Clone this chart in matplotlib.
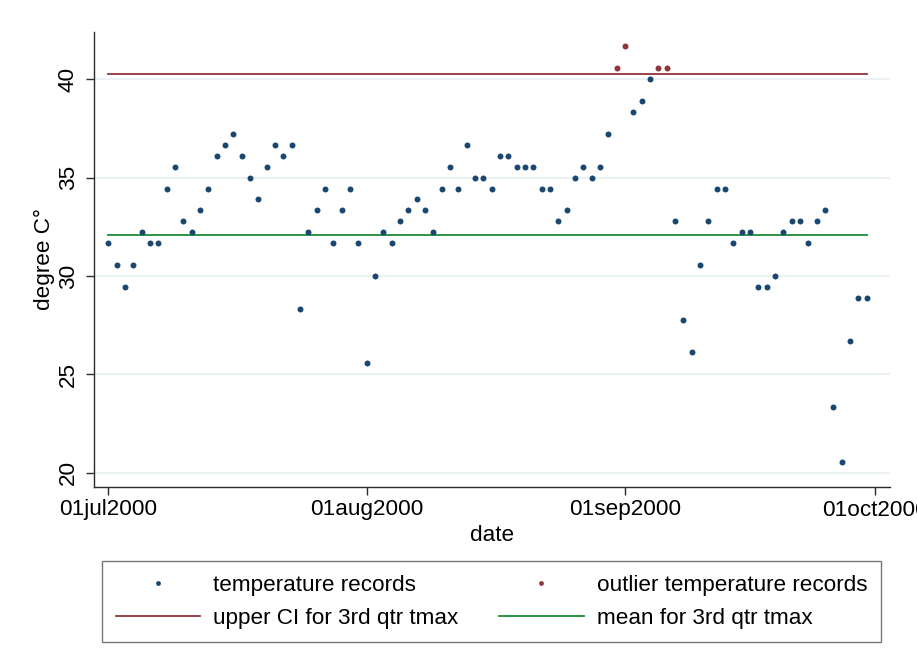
import matplotlib
matplotlib.use("Agg")
import matplotlib.pyplot as plt
import matplotlib.dates as mdates
import numpy as np
import pandas as pd

plt.rcParams['font.family'] = ['Liberation Sans', 'DejaVu Sans']

# ============================== DATA =================================
dates = pd.date_range("2000-07-01", "2000-09-30", freq="D")

tmax_jul = [31.67, 30.56, 29.44, 30.56, 32.22, 31.67, 31.67, 34.44, 35.56, 32.78,
            32.22, 33.33, 34.44, 36.11, 36.67, 37.22, 36.11, 35.00, 33.89, 35.56,
            36.67, 36.11, 36.67, 28.33, 32.22, 33.33, 34.44, 31.67, 33.33, 34.44,
            31.67]
tmax_aug = [25.56, 30.00, 32.22, 31.67, 32.78, 33.33, 33.89, 33.33, 32.22, 34.44,
            35.56, 34.44, 36.67, 35.00, 35.00, 34.44, 36.11, 36.11, 35.56, 35.56,
            35.56, 34.44, 34.44, 32.78, 33.33, 35.00, 35.56, 35.00, 35.56, 37.22,
            40.56]
tmax_sep = [41.67, 38.33, 38.89, 40.00, 40.56, 40.56, 32.78, 27.78, 26.11, 30.56,
            32.78, 34.44, 34.44, 31.67, 32.22, 32.22, 29.44, 29.44, 30.00, 32.22,
            32.78, 32.78, 31.67, 32.78, 33.33, 23.33, 20.56, 26.67, 28.89, 28.89]
tmax = np.array(tmax_jul + tmax_aug + tmax_sep)

upper_ci = 40.27   # upper CI for 3rd qtr tmax
mean_tmax = 32.09  # mean for 3rd qtr tmax

tick_dates = pd.to_datetime(["2000-07-01", "2000-08-01", "2000-09-01", "2000-10-01"])
tick_labels = ["01jul2000", "01aug2000", "01sep2000", "01oct2000"]
y_ticks = [20, 25, 30, 35, 40]

# ============================== COLOURS =================================
navy = "#1a476f"
maroon = "#90353b"
green = "#1a8c38"
fs = 16.2

# ============================== PLOT =================================
fig = plt.figure(figsize=(9.17, 6.67), dpi=100)
ax = fig.add_axes([94/917, 1-487/667, (890-94)/917, (487-32)/667])

ax.grid(axis='y', color='#eaf2f3', linewidth=1.5, zorder=0)
ax.set_axisbelow(True)

is_out = tmax > upper_ci
ax.plot(dates, np.full(len(dates), upper_ci), color=maroon, lw=1.3, zorder=2,
        label="upper CI for 3rd qtr tmax")
ax.plot(dates, np.full(len(dates), mean_tmax), color=green, lw=1.3, zorder=2,
        label="mean for 3rd qtr tmax")
ax.plot(dates[~is_out], tmax[~is_out], 'o', color=navy, ms=4.3, mew=0, zorder=3,
        label="temperature records")
ax.plot(dates[is_out], tmax[is_out], 'o', color=maroon, ms=4.3, mew=0, zorder=3,
        label="outlier temperature records")

start = mdates.date2num(pd.Timestamp("2000-07-01"))
ax.set_xlim(start - 1.72, start + 93.8)
ax.set_ylim(19.27, 42.4)

ax.set_xticks(tick_dates)
ax.set_xticklabels(tick_labels)
ax.set_yticks(y_ticks)
ax.set_yticklabels([str(v) for v in y_ticks], rotation=90, va='center')

for s in ['top', 'right']:
    ax.spines[s].set_visible(False)
for s in ['left', 'bottom']:
    ax.spines[s].set_color('#2b2b2b')
    ax.spines[s].set_linewidth(1.0)

ax.tick_params(axis='both', direction='out', length=6, width=1.0, color='#2b2b2b',
               labelsize=fs)
ax.tick_params(axis='x', pad=3)
ax.tick_params(axis='y', pad=5)

ax.set_xlabel("date", fontsize=fs, labelpad=3)
ax.set_ylabel("degree C°", fontsize=fs, labelpad=2)

# legend below, two columns (filled column by column)
h, l = ax.get_legend_handles_labels()
order = [2, 0, 3, 1]
leg = fig.legend([h[i] for i in order], [l[i] for i in order],
                 loc='upper left', bbox_to_anchor=(102/917, 1-561/667),
                 ncol=2, fontsize=fs, frameon=True, fancybox=False,
                 handlelength=3.75, handletextpad=0.6, columnspacing=1.8,
                 borderpad=0.6, labelspacing=0.55, markerscale=0.8,
                 borderaxespad=0)
leg.get_frame().set_edgecolor('#555555')
leg.get_frame().set_linewidth(1.0)

fig.savefig("out.png", dpi=100)
